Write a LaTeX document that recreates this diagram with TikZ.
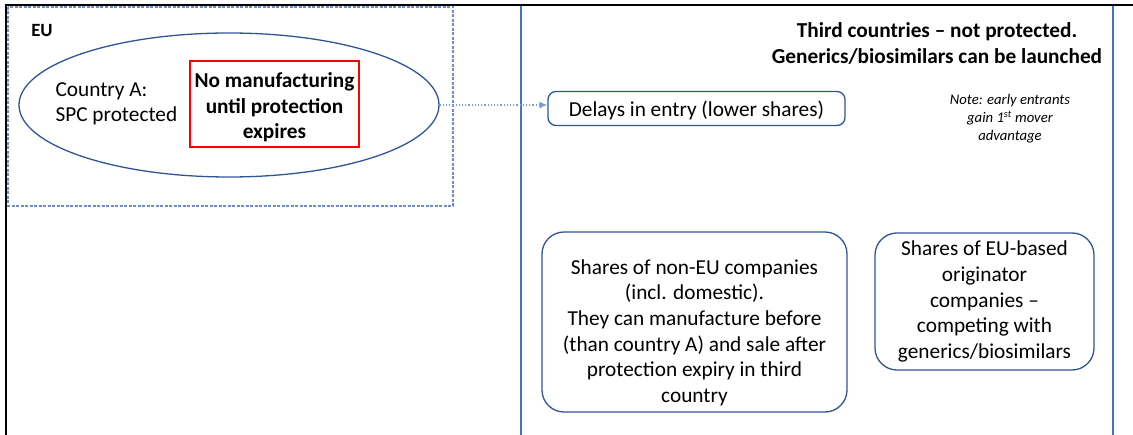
\documentclass[tikz,border=0pt]{standalone}
\usepackage{fontspec}
\setmainfont{Carlito}
\usetikzlibrary{shapes.geometric,arrows.meta}
\definecolor{edgeblue}{HTML}{2F5597}
\definecolor{lineblue}{HTML}{4472C4}
\definecolor{dashblue}{HTML}{6F8CC4}

\begin{document}
\begin{tikzpicture}[x=1pt, y=-1pt,
		txt/.style={font=\fontsize{21.3}{25.6}\selectfont, align=center},
		roundbox/.style={txt, draw=edgeblue, line width=1.3pt, rounded corners=22pt, inner sep=0pt},
		euframe/.style={draw=dashblue, dash pattern=on 3pt off 1.5pt, line width=1.2pt}]
		\useasboundingbox (0,0) rectangle (1133,435);
		\draw [lineblue, line width=1.5pt] (521,440) -- (521,5) -- (1113,5) -- (1113,440);
		\draw [black, line width=2.5pt] (6,440) -- (6,5) -- (1140,5);
		\draw [euframe] (8,7) rectangle (453,206);
		\node [font=\fontsize{18.7}{22}\selectfont\bfseries] (eu) at (42,31) {EU};
		\node [draw=edgeblue, line width=1.3pt, ellipse, minimum width=420, minimum height=144, inner sep=0pt] (countryA) at (229,105) {};
		\node [txt, align=left, anchor=west] (spc) at (52,104) {Country A:\\SPC protected};
		\node [txt, font=\fontsize{21.3}{25.6}\selectfont\bfseries, draw=red, line width=2.6pt, minimum width=169, minimum height=86, inner sep=0pt] (nomanu) at (274.5,104) {\rule{0pt}{22pt}No manufacturing\\until protection\\expires};
		\node [txt, font=\fontsize{21.3}{25.6}\selectfont\bfseries] (title) at (937,43.5) {Third countries – not protected.\\Generics/biosimilars can be launched};
		\node [roundbox, rounded corners=8pt, minimum width=297, minimum height=34] (delays) at (696.5,108.5) {\rule{0pt}{20pt}Delays in entry (lower shares)};
		\node [align=center, font=\fontsize{14.7}{18}\selectfont\itshape] (note) at (1010,119) {Note: early entrants\\gain 1\textsuperscript{st} mover\\advantage};
		\node [roundbox, minimum width=305, minimum height=180] (noneu) at (694.5,322) {\rule{0pt}{36pt}Shares of non-EU companies\\(incl. domestic).\\They can manufacture before\\(than country A) and sale after\\protection expiry in third\\country};
		\node [roundbox, minimum width=219, minimum height=137] (eubased) at (984.5,301.5) {Shares of EU-based\\originator\\companies –\\competing with\\generics/biosimilars};
		\draw [lineblue!70, dotted, line width=1.2pt, -{Latex[length=8pt, width=7pt]}] (countryA.east) -- (countryA.east -| delays.west);
\end{tikzpicture}
\end{document}
